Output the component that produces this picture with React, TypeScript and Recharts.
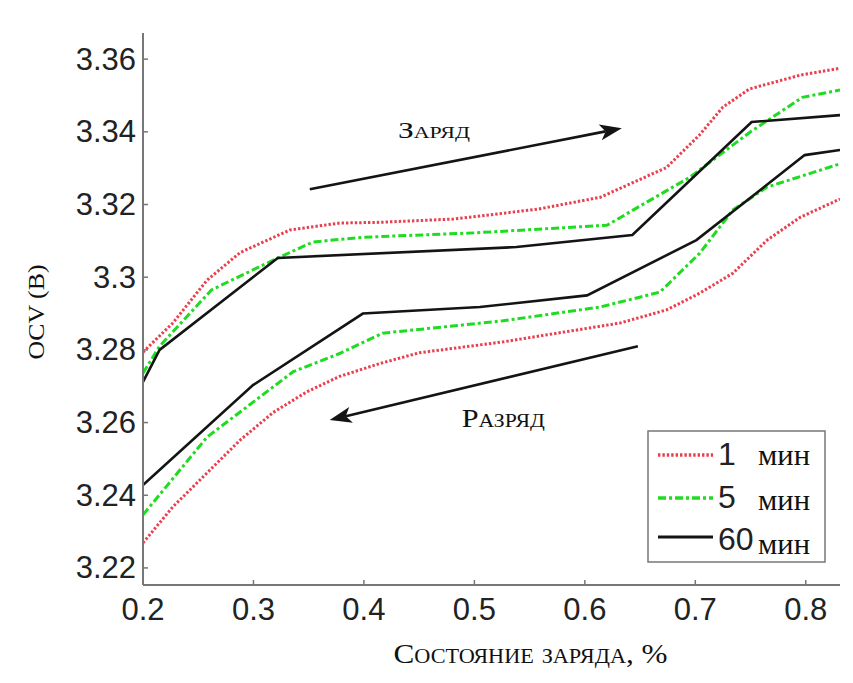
import React from "react";
import {
  Label,
  Legend,
  Line,
  LineChart,
  ReferenceDot,
  ReferenceLine,
  XAxis,
  YAxis,
} from "recharts";

// state of charge vs OCV, charge (upper) and discharge (lower) branches
const charge1 = [
  [0.2, 3.2794], [0.227, 3.2874], [0.258, 3.2992], [0.288, 3.3068], [0.333, 3.313],
  [0.378, 3.3149], [0.414, 3.3151], [0.481, 3.316], [0.557, 3.3187], [0.614, 3.322],
  [0.674, 3.3302], [0.704, 3.3392], [0.725, 3.3468], [0.749, 3.3518], [0.795, 3.3556],
  [0.831, 3.3575],
];
const charge5 = [
  [0.2, 3.2736], [0.215, 3.281], [0.262, 3.2965], [0.322, 3.3053], [0.354, 3.3097],
  [0.4, 3.311], [0.5, 3.3122], [0.62, 3.3143], [0.695, 3.3275], [0.75, 3.34],
  [0.797, 3.3495], [0.831, 3.3515],
];
const charge60 = [
  [0.2, 3.2712], [0.215, 3.28], [0.322, 3.3053], [0.538, 3.3083], [0.643, 3.3116],
  [0.751, 3.3427], [0.831, 3.3446],
];
const discharge1 = [
  [0.2, 3.2269], [0.227, 3.2368], [0.288, 3.2552], [0.318, 3.2628], [0.348, 3.2684],
  [0.378, 3.2727], [0.414, 3.2762], [0.45, 3.2792], [0.526, 3.2822], [0.632, 3.2874],
  [0.674, 3.291], [0.704, 3.2956], [0.734, 3.3011], [0.765, 3.3102], [0.795, 3.3165],
  [0.831, 3.3215],
];
const discharge5 = [
  [0.2, 3.2346], [0.258, 3.256], [0.336, 3.274], [0.378, 3.279], [0.417, 3.2846],
  [0.526, 3.288], [0.614, 3.2918], [0.668, 3.2959], [0.704, 3.3066], [0.734, 3.3185],
  [0.765, 3.3248], [0.831, 3.3312],
];
const discharge60 = [
  [0.2, 3.2428], [0.2996, 3.2703], [0.399, 3.29], [0.505, 3.2918], [0.602, 3.295],
  [0.701, 3.3102], [0.799, 3.3336], [0.831, 3.335],
];

const xTicks = [0.2, 0.3, 0.4, 0.5, 0.6, 0.7, 0.8];
const yTicks = [3.22, 3.24, 3.26, 3.28, 3.3, 3.32, 3.34, 3.36];
const legendNames = ["1", "5", "60"];

// arrows: [x1, y1, x2, y2]
const chargeArrow = [0.351, 3.3242, 0.6335, 3.341];
const dischargeArrow = [0.648, 3.281, 0.369, 3.2607];

const toRows = (pts: number[][]) => pts.map(([soc, v]) => ({ soc, v }));

const RED = "#e8404e";
const GREEN = "#1fdc22";
const BLACK = "#141414";
const SERIF = "'Liberation Serif', 'DejaVu Serif', serif";
const SANS = "'Liberation Sans', Arial, sans-serif";

const styles = [
  { color: RED, dash: "2.4 2", width: 3 },
  { color: GREEN, dash: "8 3 3 3", width: 3 },
  { color: BLACK, dash: undefined, width: 2.6 },
];

const YTick = ({ x, y, payload }: any) => (
  <g>
    <line x1={x + 7} x2={x + 12} y1={y} y2={y} stroke="#777" strokeWidth={1.5} />
    <text x={x} y={y} textAnchor="end" dominantBaseline="central" fontFamily={SANS} fontSize={31} fill="#222">
      {String(+payload.value.toFixed(2))}
    </text>
  </g>
);

const XTick = ({ x, y, payload }: any) => (
  <g>
    <line x1={x} x2={x} y1={y - 12} y2={y - 17} stroke="#777" strokeWidth={1.5} />
    <text x={x} y={y + 12} textAnchor="middle" dominantBaseline="central" fontFamily={SANS} fontSize={31} fill="#222">
      {String(payload.value)}
    </text>
  </g>
);

const Arrow = (props: any) => {
  const { x1, y1, x2, y2 } = props;
  const a = Math.atan2(y2 - y1, x2 - x1);
  const len = 22;
  const half = 8;
  const bx = x2 - len * Math.cos(a);
  const by = y2 - len * Math.sin(a);
  const nx = -Math.sin(a);
  const ny = Math.cos(a);
  const ix = x2 - len * 0.75 * Math.cos(a);
  const iy = y2 - len * 0.75 * Math.sin(a);
  return (
    <g>
      <line x1={x1} y1={y1} x2={ix} y2={iy} stroke={BLACK} strokeWidth={2.6} />
      <polygon
        points={`${x2},${y2} ${bx + nx * half},${by + ny * half} ${ix},${iy} ${bx - nx * half},${by - ny * half}`}
        fill={BLACK}
      />
    </g>
  );
};

const textMark = (label: string, size: number, len: number) => (p: any) => (
  <text x={p.cx} y={p.cy} textAnchor="middle" fontFamily={SERIF} fontSize={size}
    textLength={len} lengthAdjust="spacingAndGlyphs" style={{ fontVariant: "small-caps" }} fill="#111">
    {label}
  </text>
);

const LegendBox = () => (
  <svg width={180} height={134}>
    <rect x={1} y={1} width={177} height={131} fill="#fff" stroke="#777" strokeWidth={1.5} />
    {legendNames.map((n, i) => {
      const ly = [25, 68, 107][i];
      const nb = [35, 78, 120][i];
      const mb = [35, 80, 124][i];
      return (
        <g key={n}>
          <line x1={11} x2={66} y1={ly} y2={ly} stroke={styles[i].color} strokeWidth={styles[i].width + 0.4}
            strokeDasharray={styles[i].dash} />
          <text x={71} y={nb} fontFamily={SANS} fontSize={32} fill="#222">{n}</text>
          <text x={111} y={mb} fontFamily={SERIF} fontSize={29} textLength={52} lengthAdjust="spacingAndGlyphs"
            fill="#111">мин</text>
        </g>
      );
    })}
  </svg>
);

const series = [
  { key: "c1", pts: charge1, s: 0, name: "1" },
  { key: "c5", pts: charge5, s: 1, name: "5" },
  { key: "c60", pts: charge60, s: 2, name: "60" },
  { key: "d1", pts: discharge1, s: 0, name: "1d" },
  { key: "d5", pts: discharge5, s: 1, name: "5d" },
  { key: "d60", pts: discharge60, s: 2, name: "60d" },
];

export default function App() {
  return (
    <div style={{ position: "absolute", left: 0, top: 0, width: 853, height: 683, background: "#fff" }}>
      <LineChart width={853} height={683} margin={{ top: 33, right: 13, left: 0, bottom: 38 }}>
        <XAxis
          dataKey="soc"
          type="number"
          domain={[0.2, 0.831]}
          ticks={xTicks}
          allowDataOverflow
          height={60}
          tickSize={0}
          tickMargin={12}
          tick={<XTick />}
          stroke="#777"
          strokeWidth={2}
        >
          <Label
            content={(p: any) => (
              <text x={p.viewBox.x + p.viewBox.width / 2 + 39} y={663} textAnchor="middle"
                fontFamily={SERIF} fontSize={28} textLength={274} lengthAdjust="spacingAndGlyphs"
                style={{ fontVariant: "small-caps" }} fill="#111">
                Состояние заряда, %
              </text>
            )}
          />
        </XAxis>
        <YAxis
          type="number"
          domain={[3.2153, 3.3672]}
          ticks={yTicks}
          allowDataOverflow
          width={143}
          tickSize={0}
          tickMargin={7}
          tick={<YTick />}
          stroke="#777"
          strokeWidth={2}
        >
          <Label
            content={() => (
              <text x={36} y={312} textAnchor="middle" dominantBaseline="central" transform="rotate(-90 36 312)"
                fontFamily={SERIF} fontSize={24} textLength={95} lengthAdjust="spacingAndGlyphs" fill="#111">
                OCV (В)
              </text>
            )}
          />
        </YAxis>
        {series.map((sr) => (
          <Line
            key={sr.key}
            data={toRows(sr.pts)}
            dataKey="v"
            name={sr.name}
            type="linear"
            stroke={styles[sr.s].color}
            strokeWidth={styles[sr.s].width}
            strokeDasharray={styles[sr.s].dash}
            dot={false}
            activeDot={false}
            legendType={sr.key.startsWith("c") ? "line" : "none"}
            isAnimationActive={false}
          />
        ))}
        <ReferenceLine
          segment={[{ x: chargeArrow[0], y: chargeArrow[1] }, { x: chargeArrow[2], y: chargeArrow[3] }]}
          shape={Arrow}
        />
        <ReferenceLine
          segment={[{ x: dischargeArrow[0], y: dischargeArrow[1] }, { x: dischargeArrow[2], y: dischargeArrow[3] }]}
          shape={Arrow}
        />
        <ReferenceDot x={0.4634} y={3.3383} r={0} shape={textMark("Заряд", 23, 72)} />
        <ReferenceDot x={0.5262} y={3.2588} r={0} shape={textMark("Разряд", 25, 83)} />
        <Legend
          layout="horizontal"
          verticalAlign="middle"
          align="center"
          content={() => <LegendBox />}
          wrapperStyle={{ left: 647, top: 430, width: 180, height: 134 }}
        />
      </LineChart>
    </div>
  );
}
